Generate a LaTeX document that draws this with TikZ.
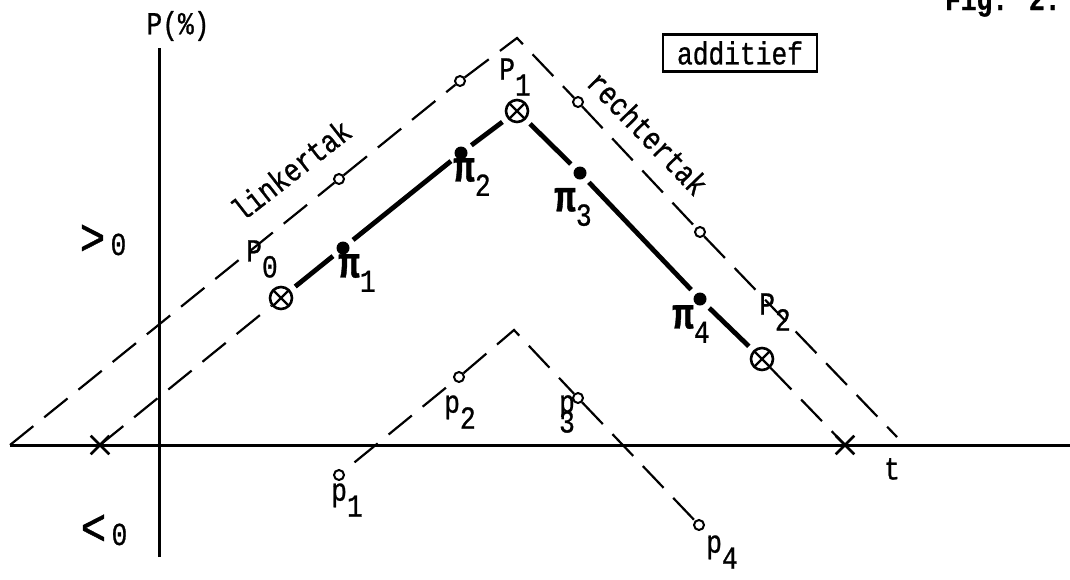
\documentclass[tikz,border=0pt]{standalone}
\usepackage{fontspec}
\setmainfont{Liberation Mono}[FakeStretch=0.82,FakeBold=0.8]
\usetikzlibrary{shapes.misc}
\newcommand\sublbl[2]{#1\raisebox{-0.5em}{#2}}
\newcommand\pilbl[1]{{\fontsize{22}{22}\selectfont\bfseries π}\raisebox{-0.45em}{#1}}

\begin{document}
\begin{tikzpicture}[x=0.5pt,y=-0.5pt,
  every node/.style={font=\fontsize{16}{18}\selectfont},
  axisline/.style={line width=1.5pt},
  dashbranch/.style={line width=1.1pt,dash pattern=on 15pt off 7pt},
  solidbranch/.style={line width=2.4pt,shorten <=3pt,shorten >=3pt},
  opendot/.style={circle,draw,line width=1pt,inner sep=0pt,minimum size=5pt},
  fulldot/.style={circle,fill,inner sep=0pt,minimum size=6.5pt},
  crossdot/.style={circle,draw,line width=1.3pt,inner sep=0pt,minimum size=11pt,
    path picture={\draw[line width=1.1pt] (path picture bounding box.north west) -- (path picture bounding box.south east)
      (path picture bounding box.north east) -- (path picture bounding box.south west);}},
  zeromark/.style={cross out,draw,line width=1.3pt,inner sep=0pt,minimum size=8pt}]
\useasboundingbox[fill=white] (0,0) rectangle (1070,579);

\coordinate (tL) at (10,445);
\coordinate (tR) at (1070,445);
\coordinate (pB) at (159,557);
\coordinate (pT) at (159,48);
\draw[axisline] (tL) -- (tR);
\draw[axisline] (pB) -- (pT);

\coordinate (oL) at (10,445);
\coordinate (oTop) at (517,38);
\coordinate (oR) at (897,437);
\node[opendot] (o1) at (339,179) {};
\node[opendot] (o2) at (460,81) {};
\node[opendot] (o3) at (578,102) {};
\node[opendot] (o4) at (700,232) {};
\draw[dashbranch] (oL) -- (o1) -- (o2) -- (oTop) -- (o3) -- (o4) -- (oR);

\node[zeromark] (x1) at (100,445) {};
\node[zeromark] (x2) at (845,445) {};
\node[crossdot] (P0) at (281,298) {};
\node[fulldot] (pi1) at (343,248) {};
\node[fulldot] (pi2) at (461,153) {};
\node[crossdot] (P1) at (517,111) {};
\node[fulldot] (pi3) at (580,173) {};
\node[fulldot] (pi4) at (700,299) {};
\node[crossdot] (P2) at (762,359) {};
\draw[dashbranch] (x1.center) -- (P0);
\draw[dashbranch] (P2) -- (x2.center);
\foreach \a/\b in {P0/pi1,pi1/pi2,pi2/P1,P1/pi3,pi3/pi4,pi4/P2}{\draw[solidbranch] (\a) -- (\b);}

\node[opendot] (p1) at (339,475) {};
\node[opendot] (p2) at (459,377) {};
\coordinate (iTop) at (514,330);
\node[opendot] (p3) at (578,398) {};
\node[opendot] (p4) at (699,525) {};
\draw[dashbranch,shorten <=7pt] (p1) -- (p2);
\draw[dashbranch] (p2) -- (iTop) -- (p3) -- (p4);

\node (lblaxis) at (178,26) {P(\%)};
\node (lblpos) at (103,240) {{\fontsize{26}{26}\selectfont >}\,0};
\node (lblneg) at (104,530) {{\fontsize{26}{26}\selectfont <}\,0};
\node (lblt) at (892,469) {t};
\node[anchor=base west] (lblfig) at (938,10) {\bfseries Fig. 2.};
\node[draw,line width=1.3pt,minimum width=77pt,minimum height=18.5pt] (lbladd) at (740,53) {additief};
\node[rotate=38] (lbllinks) at (291,170) {linkertak};
\node[rotate=-46] (lblrechts) at (648,133) {rechtertak};
\node (lblP0) at (262,259) {\sublbl{P}{0}};
\node (lblP1) at (515,77) {\sublbl{P}{1}};
\node (lblP2) at (775,312) {\sublbl{P}{2}};
\node (lblpi1) at (357,273) {\pilbl{1}};
\node (lblpi2) at (472,177) {\pilbl{2}};
\node (lblpi3) at (573,207) {\pilbl{3}};
\node (lblpi4) at (691,324) {\pilbl{4}};
\node (lblp1) at (347,500) {\sublbl{p}{1}};
\node (lblp2) at (460,412) {\sublbl{p}{2}};
\node[align=center] (lblp3) at (567,414) {p\\[-8pt]3};
\node (lblp4) at (722,552) {\sublbl{p}{4}};
\end{tikzpicture}
\end{document}
